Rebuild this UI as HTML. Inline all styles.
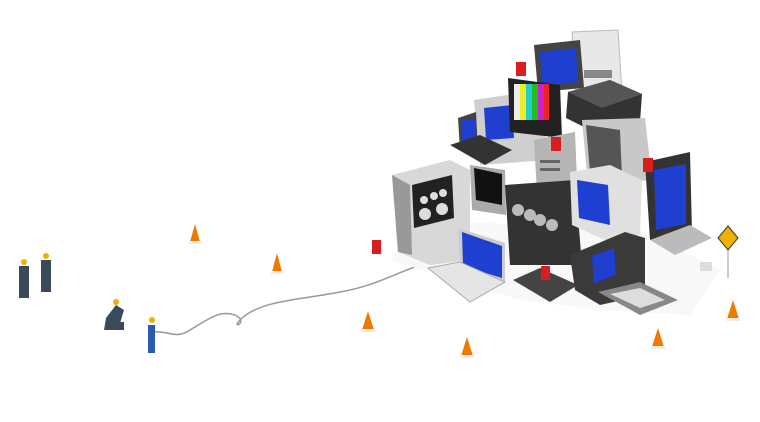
<!DOCTYPE html>
<html><head><meta charset="utf-8"><style>html,body{margin:0;padding:0;background:#fff}svg{display:block}</style></head>
<body>
<svg width="760" height="422" viewBox="0 0 760 422" xmlns="http://www.w3.org/2000/svg">
<path d="M150,332 C170,330 175,340 190,330 C210,318 220,310 235,315 C250,322 230,330 240,320 C260,300 300,300 340,292 C380,285 400,270 430,262" stroke="#999" stroke-width="1.5" fill="none"/>
<polygon points="390,260 520,300 600,310 690,315 720,270 640,230 420,220" fill="#f8f8f8"/>
<polygon points="572,32 618,30 622,92 576,96" fill="#e8e8e8" stroke="#bbb"/>
<rect x="584" y="70" width="28" height="8" fill="#888"/>
<polygon points="534,45 580,40 584,88 538,92" fill="#444"/>
<polygon points="540,52 576,48 578,82 542,86" fill="#1e3fd0"/>
<polygon points="474,100 540,90 548,160 480,165" fill="#cfcfcf"/>
<polygon points="458,118 476,112 478,150 460,150" fill="#444"/>
<rect x="462" y="120" width="14" height="22" fill="#1e3fd0"/>
<polygon points="484,108 512,105 514,138 486,140" fill="#1e3fd0"/>
<polygon points="508,78 560,85 562,138 510,132" fill="#222"/>
<rect x="514" y="84" width="6" height="36" fill="#eee"/><rect x="520" y="84" width="6" height="36" fill="#ee2"/><rect x="526" y="84" width="6" height="36" fill="#2cc"/><rect x="532" y="84" width="6" height="36" fill="#2b2"/><rect x="538" y="84" width="6" height="36" fill="#c2c"/><rect x="544" y="84" width="5" height="36" fill="#e22"/>
<polygon points="568,92 610,80 642,94 640,122 600,135 566,118" fill="#333"/>
<polygon points="568,92 610,80 642,94 602,108" fill="#555"/>
<polygon points="582,120 645,118 652,180 588,185" fill="#c8c8c8"/>
<polygon points="586,125 620,130 622,178 590,172" fill="#555"/>
<polygon points="534,140 575,132 578,205 538,210" fill="#b5b5b5"/>
<rect x="540" y="160" width="20" height="3" fill="#666"/><rect x="540" y="168" width="20" height="3" fill="#666"/>
<polygon points="450,145 480,135 512,150 485,165" fill="#333"/>
<polygon points="392,175 450,160 470,170 470,260 430,265 398,252" fill="#d8d8d8"/>
<polygon points="392,175 410,185 412,255 398,252" fill="#999"/>
<polygon points="412,185 452,175 454,218 414,228" fill="#222"/>
<circle cx="424" cy="200" r="4" fill="#ddd"/><circle cx="434" cy="196" r="4" fill="#ddd"/><circle cx="443" cy="193" r="4" fill="#ddd"/>
<circle cx="425" cy="214" r="6" fill="#ddd"/><circle cx="442" cy="209" r="6" fill="#ddd"/>
<polygon points="470,165 505,170 506,215 472,210" fill="#aaa"/>
<polygon points="474,168 502,174 502,205 476,200" fill="#111"/>
<polygon points="505,185 575,180 582,265 510,265" fill="#333"/>
<circle cx="518" cy="210" r="6" fill="#bbb"/><circle cx="530" cy="215" r="6" fill="#bbb"/><circle cx="540" cy="220" r="6" fill="#bbb"/><circle cx="552" cy="225" r="6" fill="#bbb"/>
<polygon points="570,172 610,165 642,180 640,235 605,240 572,225" fill="#e0e0e0"/>
<polygon points="577,180 608,185 610,225 579,218" fill="#1e3fd0"/>
<polygon points="645,162 690,152 692,232 650,240" fill="#333"/>
<polygon points="654,170 686,164 686,224 656,230" fill="#1e3fd0"/>
<polygon points="650,240 690,225 712,238 675,255" fill="#bbb"/>
<polygon points="458,228 505,243 505,282 460,268" fill="#ccc"/>
<polygon points="462,232 502,246 502,278 463,266" fill="#1e3fd0"/>
<polygon points="428,268 460,262 505,282 470,302" fill="#e5e5e5" stroke="#aaa"/>
<polygon points="513,280 540,268 578,285 550,302" fill="#444"/>
<polygon points="570,255 625,232 645,238 645,295 600,305 575,290" fill="#3a3a3a"/>
<polygon points="592,256 614,248 616,275 594,283" fill="#1e3fd0"/>
<polygon points="598,292 640,282 678,300 640,315" fill="#888"/>
<polygon points="610,294 640,288 665,300 640,308" fill="#ddd"/>
<rect x="700" y="262" width="12" height="9" fill="#ddd"/>
<g fill="#d81e1e"><rect x="516" y="62" width="10" height="14"/><rect x="551" y="137" width="10" height="14"/><rect x="643" y="158" width="10" height="14"/><rect x="372" y="240" width="9" height="14"/><rect x="541" y="266" width="9" height="14"/></g>
<line x1="728" y1="245" x2="728" y2="278" stroke="#999"/>
<polygon points="728,226 738,238 728,250 718,238" fill="#f0b000" stroke="#333"/>
<g fill="#f07a00">
<polygon points="195,224 190,242 200,242"/><polygon points="277,253 272,272 282,272"/><polygon points="368,311 362,330 374,330"/><polygon points="467,337 461,356 473,356"/><polygon points="658,328 652,347 664,347"/><polygon points="733,300 727,319 739,319"/>
</g>
<g fill="#eee"><rect x="189" y="241" width="13" height="3"/><rect x="271" y="271" width="13" height="3"/><rect x="361" y="329" width="14" height="3"/><rect x="460" y="355" width="14" height="3"/><rect x="651" y="346" width="14" height="3"/><rect x="726" y="318" width="14" height="3"/></g>
<g fill="#3a4a5a">
<rect x="19" y="266" width="10" height="32"/><rect x="41" y="260" width="10" height="32"/>
<polygon points="106,318 116,305 124,310 118,330 104,330"/><rect x="110" y="322" width="14" height="8"/><rect x="148" y="325" width="7" height="28" fill="#2b5bb0"/>
</g>
<g fill="#f0b000"><circle cx="24" cy="262" r="3"/><circle cx="46" cy="256" r="3"/><circle cx="116" cy="302" r="3"/><circle cx="152" cy="320" r="3"/></g>
</svg>
</body></html>
